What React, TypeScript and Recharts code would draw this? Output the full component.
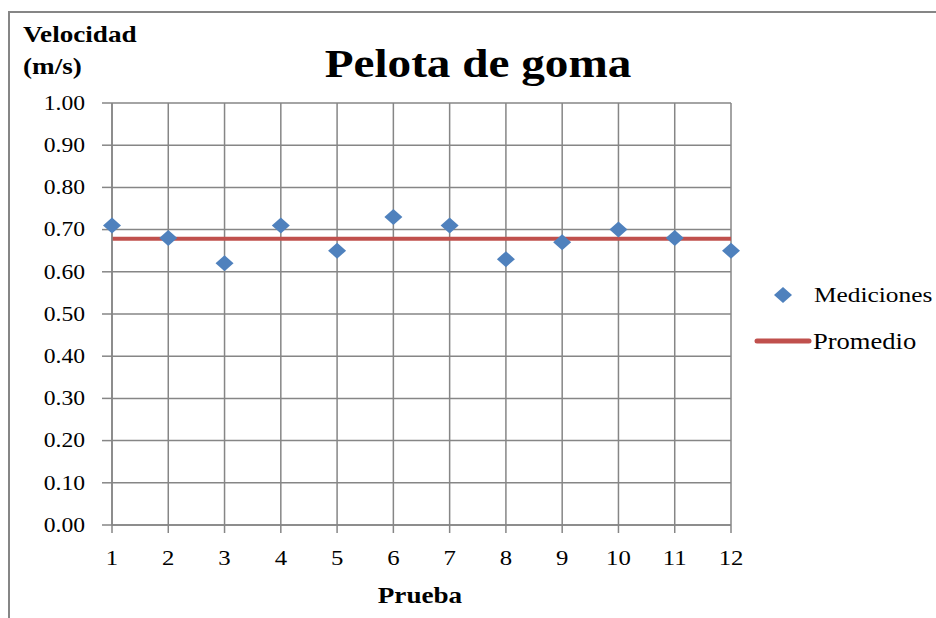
import {
  ComposedChart,
  Scatter,
  Line,
  XAxis,
  YAxis,
  CartesianGrid,
} from "recharts";

const trials = [1, 2, 3, 4, 5, 6, 7, 8, 9, 10, 11, 12];
const speeds = [0.71, 0.68, 0.62, 0.71, 0.65, 0.73, 0.71, 0.63, 0.67, 0.7, 0.68, 0.65];
const yTicks = [0, 0.1, 0.2, 0.3, 0.4, 0.5, 0.6, 0.7, 0.8, 0.9, 1.0];

const average = speeds.reduce((a, b) => a + b, 0) / speeds.length;

const data = trials.map((t, i) => ({ trial: t, speed: speeds[i], avg: average }));

const FONT = '"Liberation Serif", "Times New Roman", serif';
const GRID = "#868686";
const BLUE = "#4F81BD";
const RED = "#C0504D";
const SX = 1.18; // the reference text is a little wider than tall

const Diamond = (props: any) => {
  const { cx, cy } = props;
  return (
    <polygon
      points={`${cx},${cy - 8} ${cx + 9},${cy} ${cx},${cy + 8} ${cx - 9},${cy}`}
      fill={BLUE}
    />
  );
};

const YTick = (props: any) => {
  const { x, y, payload } = props;
  return (
    <text
      transform={`translate(${x},${y}) scale(${SX},1)`}
      textAnchor="end"
      dy="0.34em"
      style={{ fontFamily: FONT, fontSize: 20 }}
      fill="#000"
    >
      {payload.value.toFixed(2)}
    </text>
  );
};

const XTick = (props: any) => {
  const { x, y, payload } = props;
  return (
    <text
      transform={`translate(${x},${y + 32}) scale(${SX},1)`}
      textAnchor="middle"
      style={{ fontFamily: FONT, fontSize: 21 }}
      fill="#000"
    >
      {payload.value}
    </text>
  );
};

const Label = ({ x, y, size, bold, anchor, children }: any) => (
  <text
    transform={`translate(${x},${y}) scale(${SX},1)`}
    textAnchor={anchor || "start"}
    style={{ fontFamily: FONT, fontSize: size, fontWeight: bold ? "bold" : "normal" }}
    fill="#000"
  >
    {children}
  </text>
);

export default function App() {
  return (
    <div style={{ position: "absolute", left: 0, top: 0, width: 936, height: 618, overflow: "hidden", background: "#fff" }}>
      <div
        style={{
          position: "absolute",
          left: 8,
          top: 11,
          width: 940,
          height: 620,
          border: `2px solid ${GRID}`,
        }}
      />
      <div style={{ position: "absolute", left: 0, top: 0 }}>
        <ComposedChart
          width={936}
          height={618}
          data={data}
          margin={{ top: 103, right: 205, bottom: 63, left: 0 }}
        >
          <CartesianGrid stroke={GRID} strokeWidth={1.5} />
          <XAxis
            dataKey="trial"
            type="number"
            domain={[1, 12]}
            ticks={trials}
            interval={0}
            height={30}
            stroke={GRID}
            strokeWidth={1.5}
            tickSize={8}
            tickMargin={0}
            tick={<XTick />}
          />
          <YAxis
            type="number"
            domain={[0, 1]}
            ticks={yTicks}
            interval={0}
            width={112}
            stroke={GRID}
            strokeWidth={1.5}
            tickSize={10}
            tickMargin={17}
            tick={<YTick />}
          />
          <Line
            dataKey="avg"
            stroke={RED}
            strokeWidth={4}
            dot={false}
            activeDot={false}
            isAnimationActive={false}
          />
          <Scatter dataKey="speed" shape={Diamond} isAnimationActive={false} />
        </ComposedChart>
      </div>
      <svg width={936} height={618} style={{ position: "absolute", left: 0, top: 0, pointerEvents: "none" }}>
        <Label x={23} y={42} size={23} bold>Velocidad</Label>
        <Label x={23} y={74} size={23} bold>(m/s)</Label>
        <Label x={478} y={77} size={40} bold anchor="middle">Pelota de goma</Label>
        <Label x={420} y={603} size={23} bold anchor="middle">Prueba</Label>
        <polygon points="783,287 792,295 783,303 774,295" fill={BLUE} />
        <Label x={814} y={302} size={21.5}>Mediciones</Label>
        <line x1={757} y1={341} x2={809} y2={341} stroke={RED} strokeWidth={5} strokeLinecap="round" />
        <Label x={813} y={349} size={22.5}>Promedio</Label>
      </svg>
    </div>
  );
}
